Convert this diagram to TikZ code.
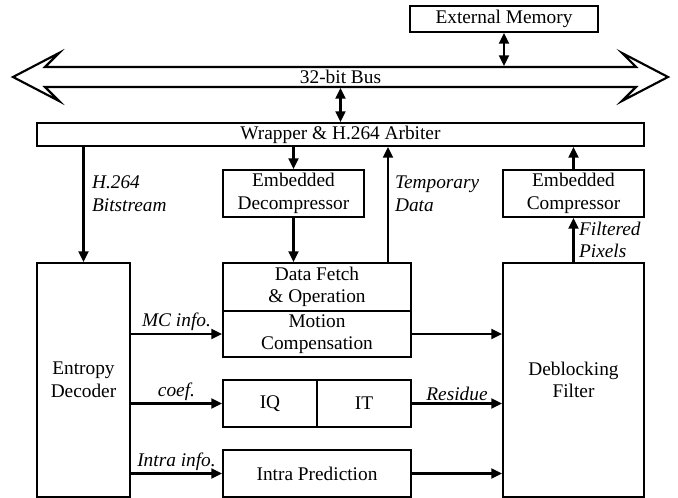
\documentclass[tikz,border=0pt]{standalone}
\usepackage{fontspec}
\setmainfont{Liberation Serif}
\usetikzlibrary{arrows.meta}

\begin{document}
\begin{tikzpicture}[x=0.75pt,y=-0.75pt,line width=1.6pt,
  box/.style={draw,rectangle,inner sep=0pt,align=center,font=\fontsize{14.5}{17}\selectfont},
  lab/.style={font=\fontsize{14.5}{17}\selectfont\itshape,inner sep=1.5pt,align=left},
  arr/.style={-{Triangle[length=8pt,width=7.5pt]}},
  dbl/.style={{Triangle[length=8pt,width=7.5pt]}-{Triangle[length=8pt,width=7.5pt]}}]
\useasboundingbox (0,0) rectangle (678,498);

   \node[box,minimum width=141pt,minimum height=19.5pt] at (504,19) (Mem) {External Memory};
   \node[minimum width=443.25pt,minimum height=15pt,inner sep=0pt,font=\fontsize{14.5}{17}\selectfont] at (340.5,77) (bus) {32-bit Bus};
   \draw (13,77) -- (59,53) -- (45,67) -- (636,67) -- (622,53) -- (668,77)
     -- (622,101) -- (636,87) -- (45,87) -- (59,101) -- cycle;
   \node[box,minimum width=455.25pt,minimum height=17.25pt] at (340.5,134.5) (Wrap) {Wrapper \& H.264 Arbiter};

    \node[box,minimum width=105.75pt,minimum height=35.25pt] at (293.5,193.5) (Dec) {Embedded\\Decompressor};
    \node[box,minimum width=105.75pt,minimum height=35.25pt] at (573.5,193.5) (Comp) {Embedded\\Compressor};

    \node[box,minimum width=69.75pt,minimum height=175.5pt] at (83.5,380) (Ent) {Entropy\\Decoder};
    \node[box,minimum width=141pt,minimum height=36pt] at (317,287) (Fetch) {Data Fetch\\\& Operation};
    \node[box,minimum width=141pt,minimum height=34.5pt] at (317,334) (MC) {Motion\\Compensation};
    \node[box,minimum width=70.5pt,minimum height=35.25pt] at (270,403.5) (IQ) {IQ};
    \node[box,minimum width=70.5pt,minimum height=35.25pt] at (364,403.5) (IT) {IT};
    \node[box,minimum width=141pt,minimum height=35.25pt] at (317,473.5) (Intra) {Intra Prediction};
    \node[box,minimum width=105.75pt,minimum height=175.5pt] at (573.5,380) (Deb) {Deblocking\\Filter};
   \coordinate (tmp) at (388,263);

    \draw[dbl] (Mem.south) -- (Mem.south |- bus.north);
    \draw[dbl] (bus.south) -- (bus.south |- Wrap.north);

    \draw[arr] (Ent.north |- Wrap.south) -- (Ent.north);
     \node[lab,anchor=west] at (89,194) (bits) {H.264\\Bitstream};
    \draw[arr] (Dec.north |- Wrap.south) -- (Dec.north);
    \draw[arr] (Dec.south) -- (Dec.south |- Fetch.north);
    \draw[arr] (tmp) -- (tmp |- Wrap.south);
     \node[lab,anchor=west] at (392,194) (tdata) {Temporary\\Data};
    \draw[arr] (Comp.north) -- (Comp.north |- Wrap.south);
    \draw[arr] (Deb.north) -- (Comp.south);
     \node[lab,anchor=west] at (576,240) (filt) {Filtered\\Pixels};

   \draw[arr] (Ent.east |- MC.west) -- (MC.west) node[midway,above,lab] {MC info.};
   \draw[arr] (Ent.east |- IQ.west) -- (IQ.west) node[midway,above,lab] {coef.};
   \draw[arr] (Ent.east |- Intra.west) -- (Intra.west) node[midway,above,lab] {Intra info.};
   \draw[arr] (MC.east) -- (MC.east -| Deb.west);
   \draw[arr] (IT.east) -- (IT.east -| Deb.west) node[midway,above,lab] {Residue};
   \draw[arr] (Intra.east) -- (Intra.east -| Deb.west);

\end{tikzpicture}
\end{document}
